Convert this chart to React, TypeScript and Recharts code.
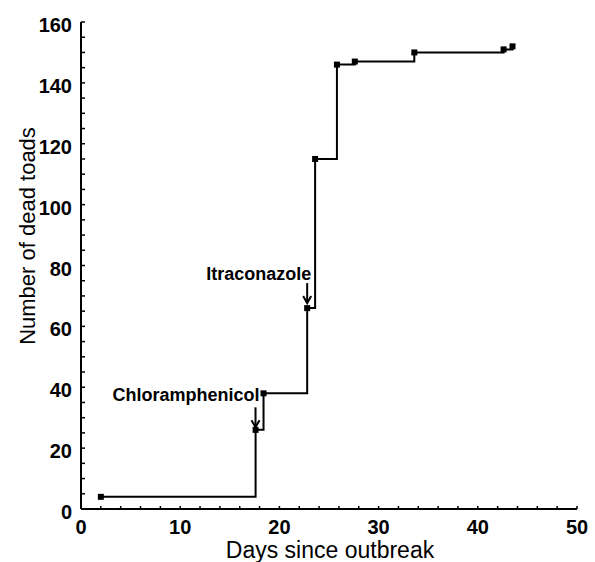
import { LineChart, Line, XAxis, YAxis, ReferenceDot } from "recharts";

// days since outbreak at which the cumulative count changes
const days = [2, 17.6, 18.4, 22.8, 23.6, 25.8, 27.6, 33.6, 42.6, 43.5];
// cumulative number of dead toads
const deadToads = [4, 26, 38, 66, 115, 146, 147, 150, 151, 152];

const xTicks = Array.from({ length: 26 }, (_, i) => i * 2);
const yTicks = Array.from({ length: 33 }, (_, i) => i * 5);

const data = days.map((d, i) => ({ day: d, dead: deadToads[i] }));

const FONT = "'Liberation Sans', Arial, Helvetica, sans-serif";

const XTick = ({ x, y, payload }: any) => (
  <g>
    <line x1={x} y1={y} x2={x} y2={y - 3} stroke="#000" strokeWidth={1.5} />
    {payload.value % 10 === 0 && (
      <text x={x} y={y + 25} textAnchor="middle" fontSize={20} fontWeight={700} fontFamily={FONT} fill="#000">
        {payload.value}
      </text>
    )}
  </g>
);

const YTick = ({ x, y, payload }: any) => (
  <g>
    <line x1={x} y1={y} x2={x + 4} y2={y} stroke="#000" strokeWidth={1.5} />
    {payload.value % 20 === 0 && (
      <text x={x - 9} y={y + 10} textAnchor="end" fontSize={20} fontWeight={700} fontFamily={FONT} fill="#000">
        {payload.value}
      </text>
    )}
  </g>
);

const SquareDot = (props: any) => {
  const { cx, cy, index } = props;
  return <rect key={index} x={cx - 3} y={cy - 3} width={6} height={6} fill="#000" />;
};

// arrow pointing down with label above/left
const Arrow = ({ x, y1, y2 }: { x: number; y1: number; y2: number }) => (
  <g stroke="#000" strokeWidth={2} fill="none">
    <line x1={x} y1={y1} x2={x} y2={y2} />
    <polyline points={`${x - 4},${y2 - 7} ${x},${y2} ${x + 4},${y2 - 7}`} />
  </g>
);

const ChloramLabel = (props: any) => {
  const { cx, cy } = props;
  return (
    <g>
      <text x={cx - 4} y={cy + 8} textAnchor="end" fontSize={18} fontWeight={700} fontFamily={FONT} fill="#000">
        Chloramphenicol
      </text>
      <Arrow x={cx - 8} y1={cy + 14} y2={cy + 34} />
    </g>
  );
};

const ItraLabel = (props: any) => {
  const { cx, cy } = props;
  return (
    <g>
      <text x={cx + 4} y={cy - 28} textAnchor="end" fontSize={18} fontWeight={700} fontFamily={FONT} fill="#000">
        Itraconazole
      </text>
      <Arrow x={cx} y1={cy - 25} y2={cy - 5} />
    </g>
  );
};

export default function App() {
  return (
    <div style={{ position: "absolute", left: 0, top: 0, width: 595, height: 562, background: "#fff" }}>
      <LineChart width={595} height={562} data={data} margin={{ top: 22, right: 18, bottom: 0, left: 0 }}>
        <XAxis
          type="number"
          dataKey="day"
          domain={[0, 50]}
          ticks={xTicks}
          interval={0}
          height={53}
          tickSize={0}
          tickMargin={0}
          tickLine={false}
          axisLine={{ stroke: "#000", strokeWidth: 2 }}
          tick={<XTick />}
          label={(p: any) => (
            <text x={330} y={558} textAnchor="middle" fontSize={23} fontFamily={FONT} fill="#000">
              Days since outbreak
            </text>
          )}
        />
        <YAxis
          type="number"
          domain={[0, 160]}
          ticks={yTicks}
          interval={0}
          width={81}
          tickSize={0}
          tickMargin={0}
          tickLine={false}
          axisLine={{ stroke: "#000", strokeWidth: 2 }}
          tick={<YTick />}
          label={(p: any) => (
            <text
              x={27}
              y={236}
              transform="rotate(-90 27 236)"
              textAnchor="middle"
              dominantBaseline="central"
              fontSize={22}
              fontFamily={FONT}
              fill="#000"
            >
              Number of dead toads
            </text>
          )}
        />
        <Line
          type="stepAfter"
          dataKey="dead"
          stroke="#000"
          strokeWidth={2}
          dot={<SquareDot />}
          activeDot={false}
          isAnimationActive={false}
        />
        <ReferenceDot x={18.4} y={38} r={0} ifOverflow="visible" shape={<ChloramLabel />} />
        <ReferenceDot x={22.8} y={66} r={0} ifOverflow="visible" shape={<ItraLabel />} />
      </LineChart>
    </div>
  );
}
